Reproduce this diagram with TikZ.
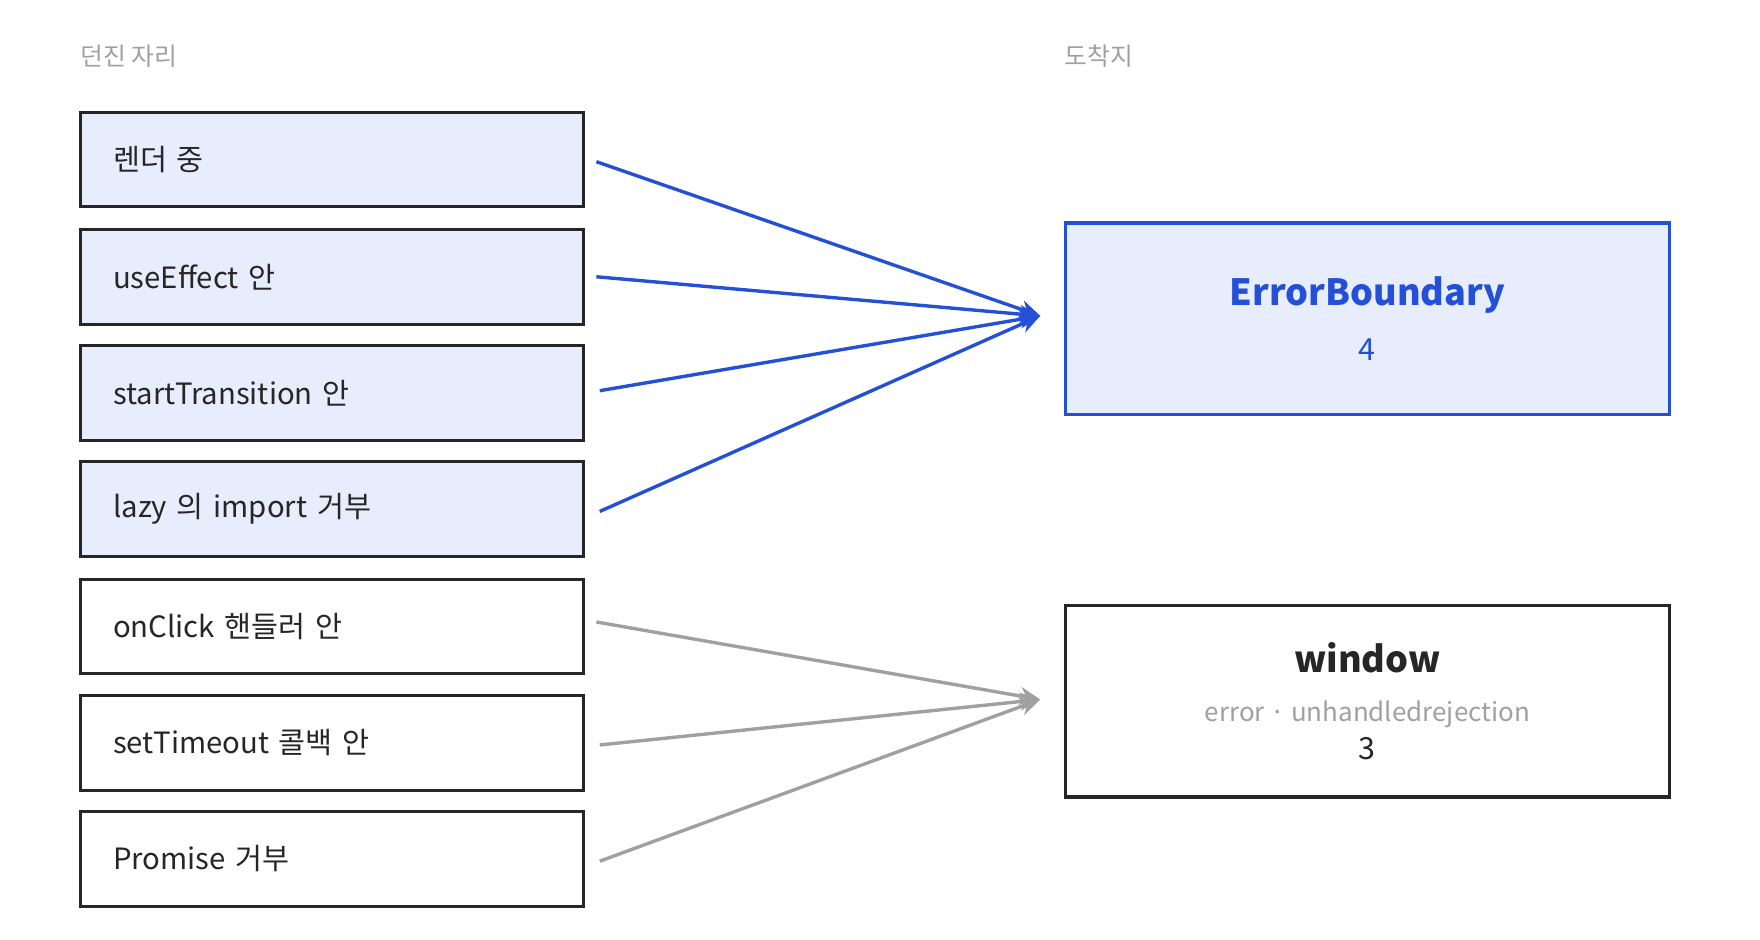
\documentclass[tikz,border=0pt]{standalone}
\usepackage{fontspec}
\setmainfont{Noto Sans CJK KR}
\usetikzlibrary{arrows.meta}
\definecolor{bl}{HTML}{2450D8}
\definecolor{blf}{HTML}{E8EDFD}
\definecolor{dk}{HTML}{262626}
\definecolor{gr}{HTML}{A0A0A0}
\tikzset{x=1pt,y=-1pt,
 src/.style={draw=dk,line width=2.6pt,minimum width=446pt,minimum height=84pt,anchor=north west,text width=388pt,align=left,inner xsep=29pt,font=\fontsize{26}{28}\selectfont,text=dk},
 hit/.style={src,fill=blf},
 lbl/.style={anchor=west,font=\fontsize{22}{24}\selectfont,text=gr},
 ba/.style={bl,line width=3pt,-{Stealth[length=18pt,width=16pt]}},
 ga/.style={gr,line width=3pt,-{Stealth[length=18pt,width=16pt]}}}
\begin{document}
\begin{tikzpicture}
\useasboundingbox (0,0) rectangle (1560,833);
\node[lbl] (t1) at (68,50) {던진 자리};
\node[lbl] (t2) at (940,50) {도착지};
\node[hit] (s1) at (70,98) {렌더 중};
\node[hit] (s2) at (70,202) {useEffect 안};
\node[hit] (s3) at (70,305) {startTransition 안};
\node[hit] (s4) at (70,408) {lazy 의 import 거부};
\node[src] (s5) at (70,512) {onClick 핸들러 안};
\node[src] (s6) at (70,615) {setTimeout 콜백 안};
\node[src] (s7) at (70,718) {Promise 거부};
\node[draw=bl,fill=blf,line width=3pt,minimum width=535pt,minimum height=170pt,anchor=north west,align=center] (eb) at (943,196)
 {{\fontsize{32}{36}\selectfont\bfseries\color{bl}ErrorBoundary}\\[22pt]{\fontsize{27}{30}\selectfont\color{bl}4}};
\node[draw=dk,line width=3pt,minimum width=535pt,minimum height=170pt,anchor=north west,align=center] (wn) at (943,535)
 {{\fontsize{32}{36}\selectfont\bfseries\color{dk}window}\\[24pt]{\fontsize{23}{26}\selectfont\color{gr}error · unhandledrejection}\\[8pt]{\fontsize{27}{30}\selectfont\color{dk}3}};
\coordinate (e) at (922,280);
\coordinate (w) at (922,620);
\draw[ba] ([xshift=10pt,yshift=-2pt]s1.east) -- (e);
\draw[ba] ([xshift=10pt]s2.east) -- (e);
\draw[ba] ([xshift=13pt,yshift=2pt]s3.east) -- (e);
\draw[ba] ([xshift=13pt,yshift=-2pt]s4.east) -- (e);
\draw[ga] ([xshift=10pt,yshift=4pt]s5.east) -- (w);
\draw[ga] ([xshift=13pt,yshift=-2pt]s6.east) -- (w);
\draw[ga] ([xshift=13pt,yshift=-2pt]s7.east) -- (w);
\end{tikzpicture}
\end{document}
